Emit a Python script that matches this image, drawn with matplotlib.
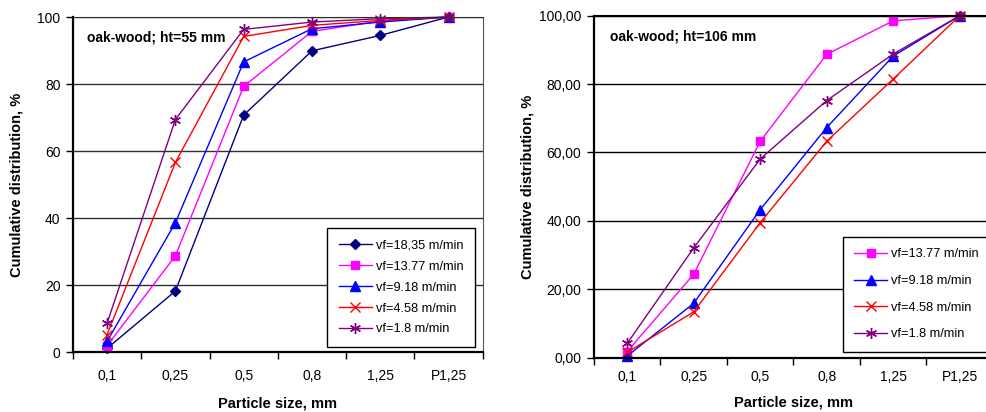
import numpy as np
import matplotlib.pyplot as plt

plt.rcParams['font.family'] = ['Liberation Sans', 'DejaVu Sans']

# данные
sizes = ['0,1', '0,25', '0,5', '0,8', '1,25', 'P1,25']

# ht = 55 mm
left_18_35 = [1.1, 18.2, 70.7, 89.9, 94.5, 100]
left_13_77 = [1.9, 28.7, 79.3, 95.7, 98.8, 100]
left_9_18 = [3.2, 38.6, 86.6, 96.5, 98.5, 100]
left_4_58 = [5.2, 56.6, 94.2, 97.5, 99.0, 100]
left_1_8 = [8.6, 69.4, 96.3, 98.5, 99.5, 100]

# ht = 106 mm
right_13_77 = [1.8, 24.4, 63.3, 88.7, 98.5, 100]
right_9_18 = [0.5, 15.9, 43.3, 67.3, 88.2, 100]
right_4_58 = [1.6, 13.4, 39.5, 63.3, 81.5, 100]
right_1_8 = [4.2, 32.1, 58.1, 75.2, 88.8, 100]

labels = ['vf=18,35 m/min', 'vf=13.77 m/min', 'vf=9.18 m/min', 'vf=4.58 m/min', 'vf=1.8 m/min']
styles = [
    dict(color='#000080', marker='D', ms=5),
    dict(color='#FF00FF', marker='s', ms=6),
    dict(color='#0000FF', marker='^', ms=6.5),
    dict(color='#FF0000', marker='x', ms=7, mew=1),
    dict(color='#800080', marker=(6, 2, 0), ms=8, mew=1),
]

fig = plt.figure(figsize=(9.86, 4.12), dpi=100)
ax1 = fig.add_axes([0.0740, 0.1456, 0.4155, 0.8131])
ax2 = fig.add_axes([0.6024, 0.1318, 0.4047, 0.8301])

x = np.arange(len(sizes))


def setup(ax, grid_color, yfmt, pad):
    ax.set_xlim(-0.5, len(sizes) - 0.5)
    ax.set_ylim(0, 100)
    ax.set_yticks(np.arange(0, 101, 20))
    ax.set_yticklabels([yfmt(v) for v in np.arange(0, 101, 20)], fontsize=10)
    ax.set_xticks(x)
    ax.set_xticklabels(sizes, fontsize=10)
    ax.set_xticks(np.arange(-0.5, len(sizes)), minor=True)
    ax.tick_params(axis='x', which='major', length=0, pad=pad)
    ax.tick_params(axis='x', which='minor', length=5, width=1, direction='out')
    ax.tick_params(axis='y', length=5, width=1, direction='out', pad=4)
    for yy in [20, 40, 60, 80, 100]:
        ax.axhline(yy, color=grid_color, lw=1, zorder=0)
    ax.spines['left'].set_linewidth(1.6)
    ax.spines['bottom'].set_linewidth(1.6)
    ax.spines['top'].set_color(grid_color)
    ax.spines['right'].set_color('#555555')
    ax.set_ylabel('Cumulative distribution, %', fontsize=10.5, fontweight='bold')


# левый график
setup(ax1, '#303030', lambda v: f'{v}', 12)
for vals, lab, st in zip([left_18_35, left_13_77, left_9_18, left_4_58, left_1_8], labels, styles):
    ax1.plot(x, vals, lw=1, label=lab, clip_on=False, **st)
ax1.text(0.035, 0.94, 'oak-wood; ht=55 mm', transform=ax1.transAxes,
         fontsize=10, fontweight='bold', va='center')
ax1.set_xlabel('Particle size, mm', fontsize=10.5, fontweight='bold', labelpad=10)
ax1.yaxis.set_label_coords(-0.12, 0.5)
leg1 = ax1.legend(loc='lower right', bbox_to_anchor=(0.981, 0.015), fontsize=9.2,
                  frameon=True, fancybox=False, edgecolor='black', framealpha=1,
                  borderaxespad=0, handlelength=2.6, labelspacing=0.70,
                  borderpad=0.9, handletextpad=0.3)
leg1.get_frame().set_linewidth(1)

# правый график
setup(ax2, 'black', lambda v: f'{v:.2f}'.replace('.', ','), 9)
for vals, lab, st in zip([right_13_77, right_9_18, right_4_58, right_1_8], labels[1:], styles[1:]):
    ax2.plot(x, vals, lw=1, label=lab, clip_on=False, **st)
ax2.text(0.04, 0.94, 'oak-wood; ht=106 mm', transform=ax2.transAxes,
         fontsize=10, fontweight='bold', va='center')
ax2.spines['top'].set_linewidth(1.5)
ax2.set_xlabel('Particle size, mm', fontsize=10.5, fontweight='bold', labelpad=8)
ax2.yaxis.set_label_coords(-0.15, 0.5)
leg2 = ax2.legend(loc='lower left', bbox_to_anchor=(0.623, 0.017), fontsize=9.2,
                  frameon=True, fancybox=False, edgecolor='black', framealpha=1,
                  borderaxespad=0, handlelength=2.6, labelspacing=1.15,
                  borderpad=0.9, handletextpad=0.3)
leg2.get_frame().set_linewidth(1)

plt.savefig('out.png', dpi=100)
